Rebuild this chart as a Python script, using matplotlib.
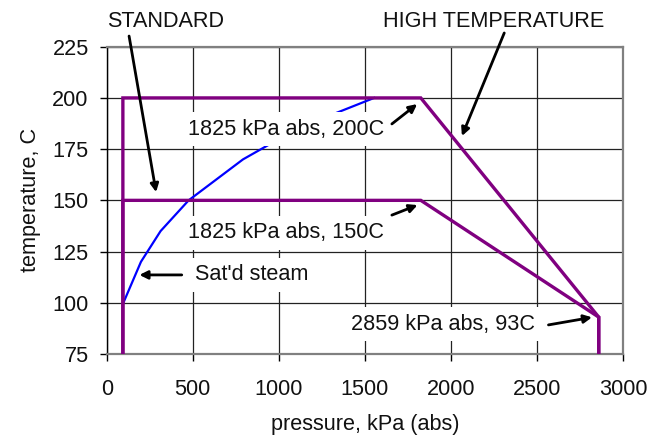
import matplotlib.pyplot as plt

plt.rcParams['font.family'] = ['Liberation Sans', 'DejaVu Sans']

# saturated steam curve (pressure kPa abs, temperature C)
steam_p = [97, 199, 313, 476, 792, 1002, 1254, 1554]
steam_t = [100, 120, 135, 150, 170, 180, 190, 200]

# process envelopes
std_p = [94, 94, 1825, 2859, 2859]
std_t = [75, 150, 150, 93, 75]
high_p = [94, 94, 1825, 2859, 2859]
high_t = [75, 200, 200, 93, 75]

x_ticks = [0, 500, 1000, 1500, 2000, 2500, 3000]
y_ticks = [75, 100, 125, 150, 175, 200, 225]

# labels: text, text position, arrow tail, arrow head
labels = [
    ("1825 kPa abs, 200C", (471, 184.8), (1657, 187.3), (1804, 197)),
    ("1825 kPa abs, 150C", (471, 134.1), (1657, 142.8), (1806, 147.7)),
    ("Sat'd steam", (513, 113.6), (436, 113.6), (190, 113.6)),
    ("2859 kPa abs, 93C", (1419, 89.6), (2567, 89.2), (2820, 92.9)),
]
headers = [
    ("STANDARD", (0, 237.1), (130, 230.2), (287, 154)),
    ("HIGH TEMPERATURE", (1608, 237.1), (2310, 231.7), (2064, 181.4)),
]

W, H = 660, 438
fig = plt.figure(figsize=(W / 100, H / 100), dpi=100)
ax = fig.add_axes([106.7 / W, 1 - 354 / H, (623 - 106.7) / W, (354 - 46.7) / H])

fs = 15.6
purple = '#800080'

ax.plot(steam_p, steam_t, color='#0000ff', lw=1.6, zorder=2)
ax.plot(std_p, std_t, color=purple, lw=2.4, zorder=3, solid_joinstyle='miter')
ax.plot(high_p, high_t, color=purple, lw=2.4, zorder=3, solid_joinstyle='miter')

ax.set_xlim(0, 3000)
ax.set_ylim(75, 225)
ax.set_xticks(x_ticks)
ax.set_yticks(y_ticks)
ax.grid(True, color='#222222', lw=0.9, zorder=0)
ax.set_axisbelow(True)

ax.tick_params(axis='both', direction='out', length=5, width=1, color='black',
               labelsize=fs, labelcolor='#111111')
ax.tick_params(axis='x', pad=13)
ax.tick_params(axis='y', pad=8)

for side in ['top', 'right', 'bottom']:
    ax.spines[side].set_color('#808080')
    ax.spines[side].set_linewidth(1.6)
ax.spines['left'].set_color('black')
ax.spines['left'].set_linewidth(1)

ax.set_xlabel('pressure, kPa (abs)', fontsize=fs, color='#111111', labelpad=10)
ax.set_ylabel('temperature, C', fontsize=fs, color='#111111', labelpad=8)

for text, pos, tail, head in labels:
    ax.text(pos[0], pos[1], text, fontsize=fs, ha='left', va='center', color='#111111',
            zorder=5, bbox=dict(boxstyle='square,pad=0.3', facecolor='white', edgecolor='none'))
    ax.annotate('', xy=head, xytext=tail, zorder=6,
                arrowprops=dict(arrowstyle='-|>', color='black', lw=2,
                                mutation_scale=12, shrinkA=0, shrinkB=0))

for text, pos, tail, head in headers:
    ax.text(pos[0], pos[1], text, fontsize=fs, ha='left', va='center', color='#111111',
            clip_on=False)
    ax.annotate('', xy=head, xytext=tail, zorder=6, annotation_clip=False,
                arrowprops=dict(arrowstyle='-|>', color='black', lw=2,
                                mutation_scale=12, shrinkA=0, shrinkB=0))

plt.savefig('out.png', dpi=100)
